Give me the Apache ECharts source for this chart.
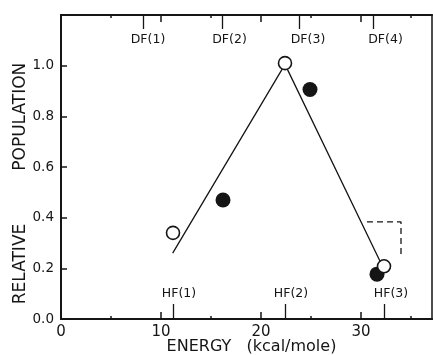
<!DOCTYPE html>
<html>
<head>
<meta charset="utf-8">
<script src="https://cdn.jsdelivr.net/npm/echarts@6/dist/echarts.min.js"></script>
<style>
html,body{margin:0;padding:0;background:#fff;}
#chart{width:433px;height:355px;}
</style>
</head>
<body>
<div id="chart"></div>
<script>
// ---- data ----
const openX = [11.2, 22.4, 32.3];
const openY = [0.34, 1.01, 0.208];
const filledX = [16.2, 24.9, 31.6];
const filledY = [0.47, 0.906, 0.177];
const fitX = [11.17, 22.4, 32.0];
const fitY = [0.26, 1.005, 0.22];
const bracketX = [30.6, 34.0, 34.0];
const bracketY = [0.383, 0.383, 0.241];

const xMajorTicks = [0, 10, 20, 30];
const xMinorTicks = [5, 15, 25, 35];
const yTicks = [0, 0.2, 0.4, 0.6, 0.8, 1.0];

const hfTicks = [11.23, 22.4, 32.33];
const hfLabelPos = [11.8, 23.0, 33.0];
const hfLabels = ['HF(1)', 'HF(2)', 'HF(3)'];

const dfTicks = [8.2, 16.1, 23.8, 31.2];
const dfLabelPos = [8.7, 16.85, 24.7, 32.45];
const dfLabels = ['DF(1)', 'DF(2)', 'DF(3)', 'DF(4)'];

const xTitle = 'ENERGY   (kcal/mole)';
const yTitle1 = 'RELATIVE';
const yTitle2 = 'POPULATION';

// ---- chart ----
const INK = '#151515';
const FONT = 'DejaVu Sans';
const zip = (a, b) => a.map((v, i) => [v, b[i]]);
const pick = (pos, labels) => (v) => {
  let best = 0, d = Infinity;
  pos.forEach((p, i) => { const dd = Math.abs(p - v); if (dd < d) { d = dd; best = i; } });
  return labels[best];
};

function xAx(extra) {
  return Object.assign({
    type: 'value', min: 0, max: 37.1, gridIndex: 0,
    splitLine: { show: false },
    axisLine: { show: false, onZero: false },
    axisTick: { show: false },
    axisLabel: { show: false }
  }, extra);
}

const chart = echarts.init(document.getElementById('chart'), null, { renderer: 'canvas' });
chart.setOption({
  backgroundColor: '#fff',
  animation: false,
  grid: { left: 61, right: 1, top: 15, bottom: 36, containLabel: false, outerBoundsMode: 'none', show: true, borderColor: INK, borderWidth: 1.5, backgroundColor: 'transparent' },
  xAxis: [
    xAx({
      position: 'bottom',
      axisLine: { show: true, onZero: false, lineStyle: { color: INK, width: 2.2 } },
      axisTick: { show: true, inside: true, length: 7, customValues: xMajorTicks, lineStyle: { color: INK, width: 1.5 } },
      axisLabel: { show: true, customValues: xMajorTicks, margin: 6, color: INK, fontSize: 15, fontFamily: FONT },
      name: xTitle, nameLocation: 'middle', nameGap: 20, nameMoveOverlap: false,
      nameTextStyle: { color: INK, fontSize: 16, fontFamily: FONT, padding: [0, 0, 0, 10] }
    }),
    xAx({
      position: 'bottom',
      axisTick: { show: true, inside: true, length: 3, customValues: xMinorTicks, lineStyle: { color: INK, width: 1.5 } }
    }),
    xAx({
      position: 'bottom',
      axisTick: { show: true, inside: true, length: 15, customValues: hfTicks, lineStyle: { color: INK, width: 1.3 } },
      axisLabel: { show: true, inside: true, customValues: hfLabelPos, margin: 19, formatter: pick(hfLabelPos, hfLabels), color: INK, fontSize: 12.5, fontFamily: FONT }
    }),
    xAx({
      position: 'top',
      axisLine: { show: true, onZero: false, lineStyle: { color: INK, width: 2 } },
      axisTick: { show: true, inside: true, length: 7, customValues: [10, 20, 30], lineStyle: { color: INK, width: 1.5 } }
    }),
    xAx({
      position: 'top',
      axisTick: { show: true, inside: true, length: 3, customValues: xMinorTicks, lineStyle: { color: INK, width: 1.5 } }
    }),
    xAx({
      position: 'top',
      axisTick: { show: true, inside: true, length: 14, customValues: dfTicks, lineStyle: { color: INK, width: 1.3 } },
      axisLabel: { show: true, inside: true, customValues: dfLabelPos, margin: 18, formatter: pick(dfLabelPos, dfLabels), color: INK, fontSize: 12.5, fontFamily: FONT }
    })
  ],
  yAxis: [{
    type: 'value', min: 0, max: 1.2, interval: 0.2, position: 'left',
    splitLine: { show: false },
    axisLine: { show: true, onZero: false, lineStyle: { color: INK, width: 2 } },
    axisTick: { show: true, inside: true, length: 6, customValues: yTicks, lineStyle: { color: INK, width: 1.5 } },
    axisLabel: { customValues: yTicks, margin: 7, color: INK, fontSize: 13.5, fontFamily: FONT, formatter: v => v.toFixed(1) },
    name: '{r|' + yTitle1 + '}{g|}{p|' + yTitle2 + '}',
    nameLocation: 'middle', nameGap: 32, nameMoveOverlap: false,
    nameTextStyle: {
      color: INK, fontSize: 17, fontFamily: FONT, padding: [0, 33, 0, 0],
      rich: {
        r: { color: INK, fontSize: 17, fontFamily: FONT },
        g: { width: 53 },
        p: { color: INK, fontSize: 17, fontFamily: FONT }
      }
    }
  }],
  series: [
    {
      name: 'fit', type: 'line', xAxisIndex: 0, yAxisIndex: 0, z: 2,
      data: zip(fitX, fitY), symbol: 'none',
      lineStyle: { color: INK, width: 1.3 }
    },
    {
      name: 'bracket', type: 'line', xAxisIndex: 0, yAxisIndex: 0, z: 2,
      data: zip(bracketX, bracketY), symbol: 'none',
      lineStyle: { color: INK, width: 1.3, type: [6, 4] }
    },
    {
      name: 'filled', type: 'scatter', xAxisIndex: 0, yAxisIndex: 0, z: 3,
      data: zip(filledX, filledY), symbol: 'circle', symbolSize: 15,
      itemStyle: { color: INK, borderWidth: 0, opacity: 1 }
    },
    {
      name: 'open', type: 'scatter', xAxisIndex: 0, yAxisIndex: 0, z: 4,
      data: zip(openX, openY), symbol: 'circle', symbolSize: 13,
      itemStyle: { color: '#fff', borderColor: INK, borderWidth: 1.6, opacity: 1 }
    }
  ]
});
</script>
</body>
</html>
